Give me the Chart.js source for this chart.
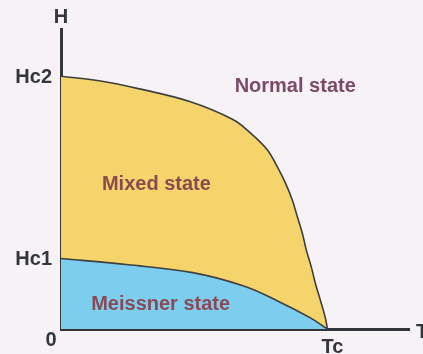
<!DOCTYPE html>
<html>
<head>
<meta charset="utf-8">
<script src="https://cdn.jsdelivr.net/npm/chart.js@4.4.0/dist/chart.umd.min.js"></script>
<style>
  html, body { margin: 0; padding: 0; background: #f7f2f6; }
  #wrap { width: 423px; height: 354px; position: relative; }
</style>
</head>
<body>
<div id="wrap"><canvas id="chart"></canvas></div>
<script>
'use strict';

// ─── Data (T normalised to Tc = 1, H normalised to Hc2 = 1) ────────
const tempHc2  = [0, 0.143, 0.294, 0.483, 0.645, 0.709, 0.774, 0.811, 0.842, 0.868, 0.887, 0.906, 0.921, 0.940, 0.955, 0.974, 0.992, 1.0];
const fieldHc2 = [1.0, 0.982, 0.950, 0.900, 0.829, 0.777, 0.709, 0.643, 0.578, 0.510, 0.444, 0.378, 0.311, 0.243, 0.179, 0.112, 0.044, 0];
const tempHc1  = [0, 0.245, 0.494, 0.683, 0.811, 0.936, 1.0];
const fieldHc1 = [0.279, 0.255, 0.223, 0.171, 0.112, 0.044, 0];

const yTickValues = [0, 0.279, 1.0];
const yTickLabels = ['0', 'Hc1', 'Hc2'];
const xTickValues = [1.0];
const xTickLabels = ['Tc'];
const regionLabels = [
  { text: 'Mixed state',    t: 0.358, h: 0.570, color: '#8a4a52' },
  { text: 'Meissner state', t: 0.374, h: 0.096, color: '#8a4a55' },
  { text: 'Normal state',   t: 0.879, h: 0.960, color: '#7a4a66' },
];

const toPoints = (xs, ys) => xs.map((x, i) => ({ x, y: ys[i] }));

const axisColor = '#33363a';
const font = 'bold 20px "Liberation Sans", Arial, sans-serif';

// Draws tick labels, axis names and region labels off the scales
const labelsPlugin = {
  id: 'phaseLabels',
  afterDraw(chart) {
    const { ctx, scales: { x, y }, chartArea } = chart;
    ctx.save();
    ctx.font = font;
    ctx.textBaseline = 'middle';

    // y ticks
    ctx.fillStyle = axisColor;
    yTickValues.forEach((v, i) => {
      const py = y.getPixelForValue(v);
      if (v === 0) {
        ctx.textAlign = 'center';
        ctx.fillText(yTickLabels[i], chartArea.left - 10, py + 11);
      } else {
        ctx.textAlign = 'right';
        ctx.fillText(yTickLabels[i], chartArea.left - 9, py + 1);
      }
    });
    // x ticks
    ctx.textAlign = 'center';
    xTickValues.forEach((v, i) => {
      ctx.fillText(xTickLabels[i], x.getPixelForValue(v) + 5, chartArea.bottom + 18);
    });
    // axis names
    ctx.fillText('H', chartArea.left, chartArea.top - 12);
    ctx.textAlign = 'left';
    ctx.fillText('T', chartArea.right + 7, chartArea.bottom + 3);

    // region names
    ctx.textAlign = 'center';
    regionLabels.forEach(r => {
      ctx.fillStyle = r.color;
      ctx.fillText(r.text, x.getPixelForValue(r.t), y.getPixelForValue(r.h));
    });
    ctx.restore();
  }
};

new Chart(document.getElementById('chart'), {
  type: 'scatter',
  data: {
    datasets: [
      {
        label: 'Hc1',
        data: toPoints(tempHc1, fieldHc1),
        showLine: true,
        borderColor: '#3c3f42',
        borderWidth: 1.6,
        backgroundColor: '#7dcdee',
        fill: 'origin',
        pointRadius: 0,
        tension: 0.4,
      },
      {
        label: 'Hc2',
        data: toPoints(tempHc2, fieldHc2),
        showLine: true,
        borderColor: '#3c3f42',
        borderWidth: 1.6,
        backgroundColor: '#f6d46c',
        fill: 'origin',
        pointRadius: 0,
        tension: 0.4,
      },
    ],
  },
  options: {
    responsive: true,
    maintainAspectRatio: false,
    animation: false,
    layout: { padding: { left: 61, top: 29, right: 14, bottom: 25 } },
    plugins: { legend: { display: false }, tooltip: { enabled: false } },
    scales: {
      x: {
        type: 'linear', min: 0, max: 1.306,
        grid: { display: false, drawTicks: false },
        ticks: { display: false },
        border: { display: true, width: 3, color: axisColor },
      },
      y: {
        type: 'linear', min: 0, max: 1.187,
        grid: { display: false, drawTicks: false },
        ticks: { display: false },
        border: { display: true, width: 3, color: axisColor },
      },
    },
  },
  plugins: [labelsPlugin],
});
</script>
</body>
</html>
